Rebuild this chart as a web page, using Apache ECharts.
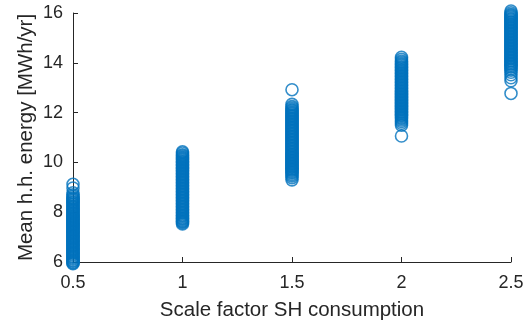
<!DOCTYPE html>
<html>
<head>
<meta charset="utf-8">
<script src="https://cdn.jsdelivr.net/npm/echarts@6/dist/echarts.min.js"></script>
<style>
  html, body { margin: 0; padding: 0; background: #fff; }
  #chart { width: 528px; height: 326px; }
</style>
</head>
<body>
<div id="chart"></div>
<script>
// Scale factors applied to space-heating consumption
const scaleFactors = [0.5, 1, 1.5, 2, 2.5];

// Mean household energy [MWh/yr] for each scale factor
const energyAt05 = [9.12, 8.97, 8.78, 8.70, 8.64, 8.58, 8.55, 8.51, 8.47, 8.42, 8.39, 8.35,
  8.31, 8.26, 8.22, 8.19, 8.14, 8.10, 8.07, 8.03, 7.98, 7.95, 7.91, 7.86, 7.83, 7.79, 7.74,
  7.71, 7.67, 7.63, 7.58, 7.55, 7.51, 7.47, 7.43, 7.39, 7.35, 7.31, 7.27, 7.22, 7.19, 7.15,
  7.11, 7.06, 7.03, 6.99, 6.95, 6.91, 6.86, 6.83, 6.79, 6.75, 6.70, 6.67, 6.63, 6.59, 6.54,
  6.51, 6.47, 6.43, 6.38, 6.35, 6.31, 6.27, 6.22, 6.19, 6.15, 6.11, 6.06, 6.03, 5.99, 5.96,
  5.93];
const energyAt10 = [10.43, 10.38, 10.31, 10.27, 10.22, 10.18, 10.14, 10.10, 10.05, 10.02,
  9.98, 9.93, 9.90, 9.86, 9.81, 9.78, 9.74, 9.69, 9.66, 9.62, 9.57, 9.54, 9.50, 9.45, 9.42,
  9.38, 9.33, 9.30, 9.26, 9.21, 9.18, 9.14, 9.09, 9.06, 9.02, 8.97, 8.94, 8.90, 8.85, 8.82,
  8.78, 8.73, 8.70, 8.66, 8.61, 8.58, 8.54, 8.49, 8.46, 8.42, 8.37, 8.34, 8.30, 8.25, 8.22,
  8.18, 8.13, 8.10, 8.06, 8.01, 7.98, 7.94, 7.89, 7.86, 7.82, 7.77, 7.74, 7.70, 7.65, 7.62,
  7.58, 7.53];
const energyAt15 = [12.92, 12.33, 12.24, 12.18, 12.12, 12.08, 12.03, 11.99, 11.95, 11.90,
  11.87, 11.83, 11.78, 11.75, 11.71, 11.66, 11.63, 11.59, 11.54, 11.51, 11.47, 11.42, 11.39,
  11.35, 11.30, 11.27, 11.23, 11.18, 11.15, 11.11, 11.06, 11.03, 10.99, 10.94, 10.91, 10.87,
  10.82, 10.79, 10.75, 10.70, 10.67, 10.63, 10.58, 10.55, 10.51, 10.46, 10.43, 10.39, 10.34,
  10.31, 10.27, 10.22, 10.19, 10.15, 10.10, 10.07, 10.03, 9.98, 9.95, 9.91, 9.86, 9.83, 9.79,
  9.74, 9.71, 9.67, 9.62, 9.58, 9.52, 9.46, 9.39, 9.30];
const energyAt20 = [14.22, 14.14, 14.07, 14.02, 13.97, 13.93, 13.89, 13.84, 13.81, 13.77,
  13.72, 13.69, 13.65, 13.60, 13.57, 13.53, 13.48, 13.45, 13.41, 13.36, 13.33, 13.29, 13.24,
  13.21, 13.17, 13.12, 13.09, 13.05, 13.00, 12.97, 12.93, 12.88, 12.85, 12.81, 12.76, 12.73,
  12.69, 12.64, 12.61, 12.57, 12.52, 12.49, 12.45, 12.40, 12.37, 12.33, 12.28, 12.25, 12.21,
  12.16, 12.13, 12.09, 12.04, 12.01, 11.97, 11.92, 11.89, 11.85, 11.80, 11.76, 11.70, 11.64,
  11.57, 11.49, 11.06];
const energyAt25 = [16.08, 16.01, 15.95, 15.91, 15.87, 15.83, 15.78, 15.75, 15.71, 15.66,
  15.63, 15.59, 15.54, 15.51, 15.47, 15.42, 15.39, 15.35, 15.30, 15.27, 15.23, 15.18, 15.15,
  15.11, 15.06, 15.03, 14.99, 14.94, 14.91, 14.87, 14.82, 14.79, 14.75, 14.70, 14.67, 14.63,
  14.58, 14.55, 14.51, 14.46, 14.43, 14.39, 14.34, 14.31, 14.27, 14.22, 14.19, 14.15, 14.10,
  14.07, 14.03, 13.98, 13.95, 13.91, 13.86, 13.82, 13.76, 13.70, 13.62, 13.52, 13.40, 13.28,
  12.77];

const energyByFactor = [energyAt05, energyAt10, energyAt15, energyAt20, energyAt25];

// Axis ticks
const xTicks = [0.5, 1, 1.5, 2, 2.5];
const yTicks = [6, 8, 10, 12, 14, 16];

const points = [];
energyByFactor.forEach((vals, i) => {
  vals.forEach(v => points.push([scaleFactors[i], v]));
});

const textColor = '#262626';
const axisColor = '#262626';
const fontFamily = '"Liberation Sans", Arial, Helvetica, sans-serif';

const chart = echarts.init(document.getElementById('chart'), null, { renderer: 'canvas' });
chart.setOption({
  animation: false,
  backgroundColor: '#ffffff',
  grid: { left: 73, right: 17, top: 13, bottom: 61 },
  xAxis: {
    type: 'value',
    min: xTicks[0],
    max: xTicks[xTicks.length - 1],
    interval: 0.5,
    name: 'Scale factor SH consumption',
    nameLocation: 'middle',
    nameGap: 38,
    nameMoveOverlap: false,
    nameTextStyle: { color: textColor, fontSize: 20.5, fontFamily: fontFamily },
    axisLine: { show: true, lineStyle: { color: axisColor, width: 1 } },
    axisTick: { show: true, inside: true, length: 5, lineStyle: { color: axisColor } },
    axisLabel: { color: textColor, fontSize: 18, fontFamily: fontFamily, margin: 12 },
    splitLine: { show: false }
  },
  yAxis: {
    type: 'value',
    min: yTicks[0],
    max: yTicks[yTicks.length - 1],
    interval: 2,
    name: 'Mean h.h. energy [MWh/yr]',
    nameLocation: 'middle',
    nameGap: 36,
    nameMoveOverlap: false,
    nameTextStyle: { color: textColor, fontSize: 20.5, fontFamily: fontFamily },
    axisLine: { show: true, lineStyle: { color: axisColor, width: 1 } },
    axisTick: { show: true, inside: true, length: 5, lineStyle: { color: axisColor } },
    axisLabel: { color: textColor, fontSize: 18, fontFamily: fontFamily, margin: 10 },
    splitLine: { show: false }
  },
  series: [{
    type: 'scatter',
    data: points,
    symbol: 'circle',
    symbolSize: 12,
    clip: false,
    itemStyle: {
      color: 'rgba(0,0,0,0)',
      borderColor: '#0072BD',
      borderWidth: 1.6
    }
  }]
});
</script>
</body>
</html>
